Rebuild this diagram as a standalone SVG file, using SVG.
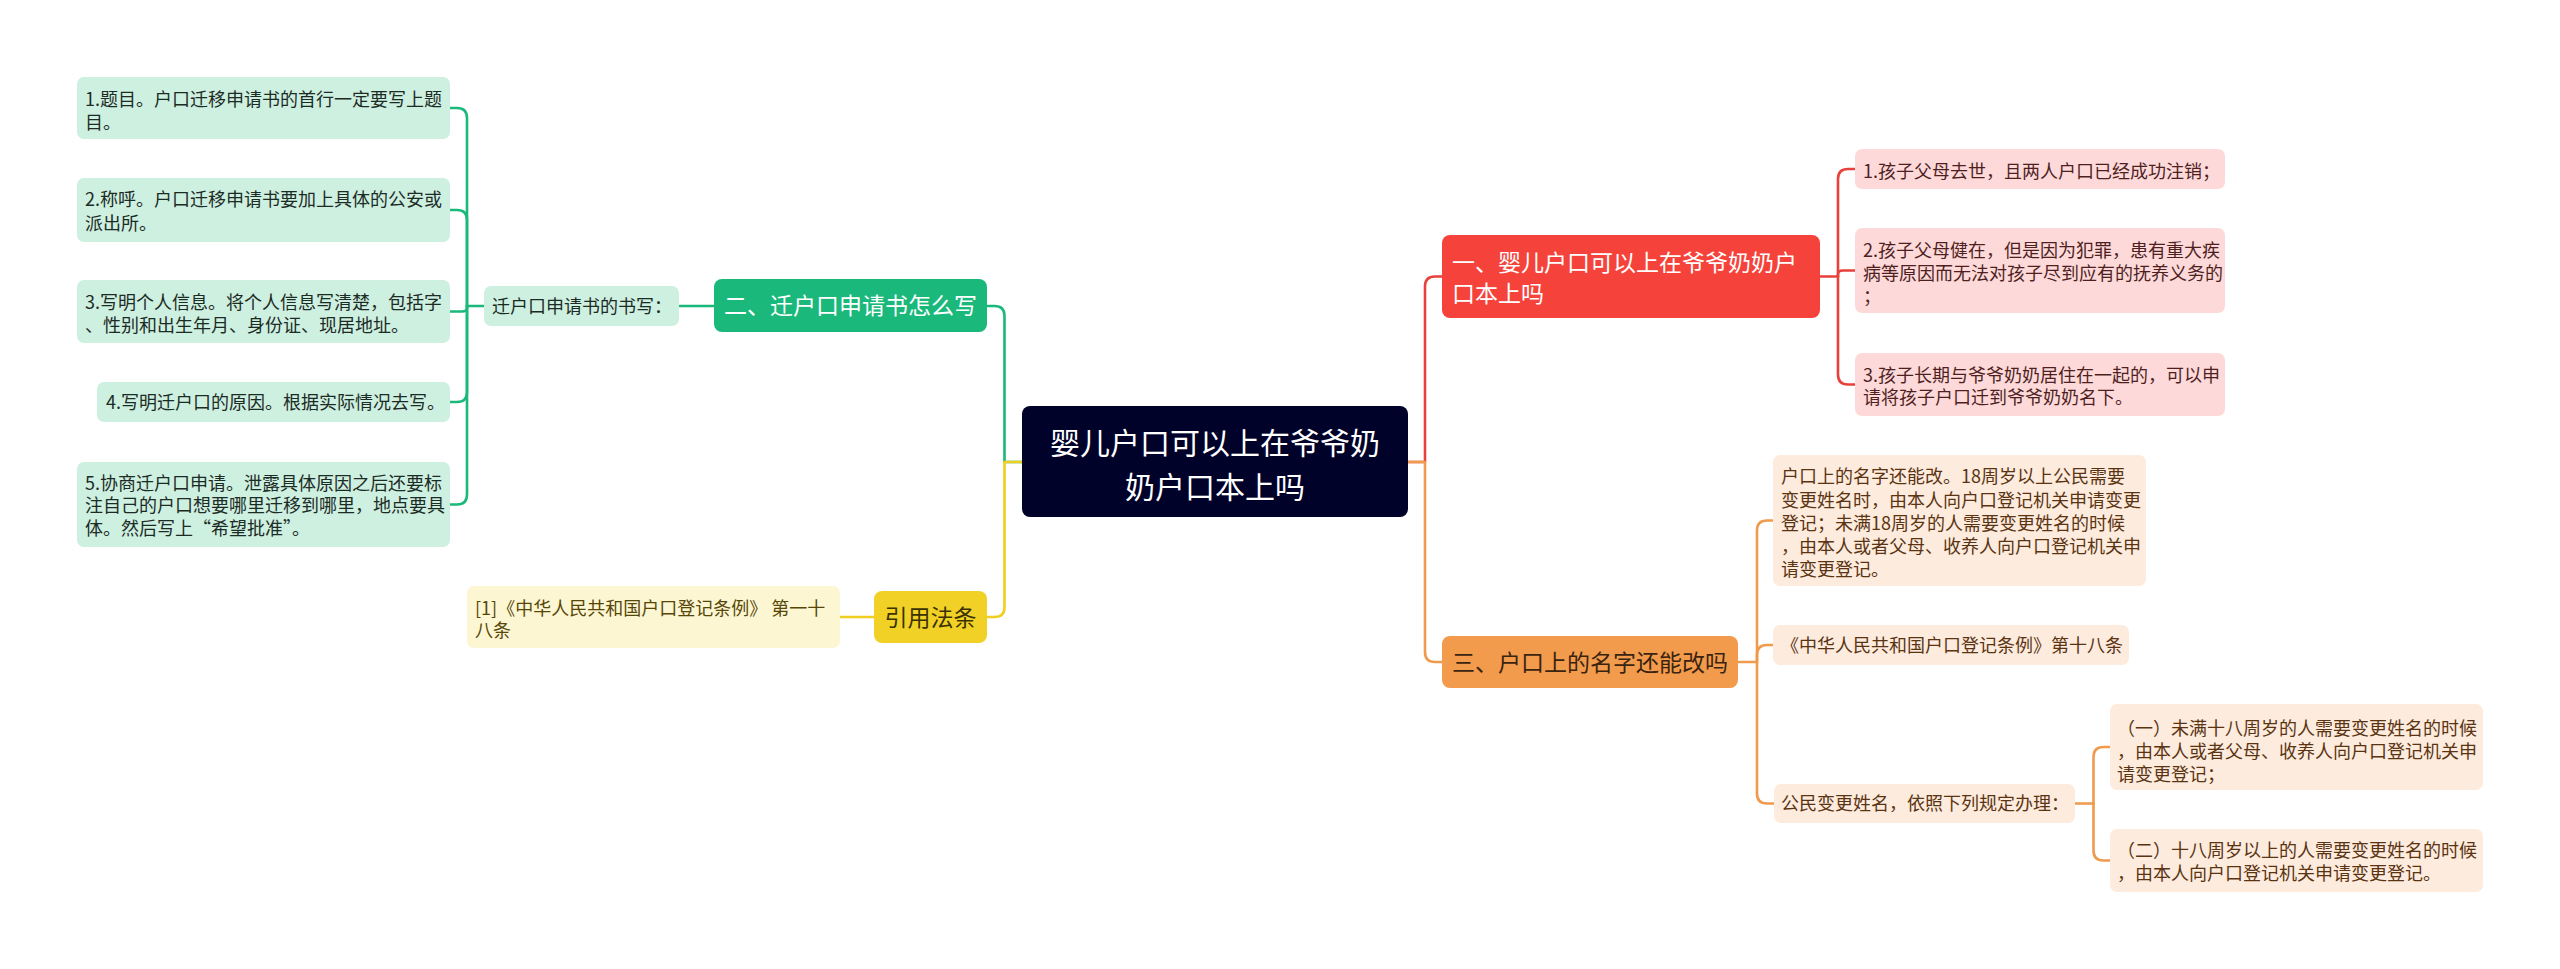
<svg xmlns="http://www.w3.org/2000/svg" width="2560" height="969" viewBox="0 0 2560 969">
<style>
text{font-family:"Noto Sans CJK SC","Noto Sans",sans-serif;}
.leaf{font-size:18px;}
.big{font-size:23px;}
.gl{fill:#cdf0e1;}
.gt{fill:#1d2b25;}
.rl{fill:#fdd9d9;}
.rt{fill:#4f1f1f;}
.ol{fill:#fdebdd;}
.ot{fill:#5a3412;}
.yl{fill:#fdf6d3;}
.yt{fill:#564708;}
.c{fill:none;stroke-width:2.6;stroke-linecap:round;stroke-linejoin:round;}
.cg{stroke:#1ab87b;}
.cy{stroke:#f0cf22;}
.cr{stroke:#e8403a;}
.co{stroke:#ef9a4c;}
</style>
<rect width="2560" height="969" fill="#ffffff"/>
<g id="connectors">
<path class="c cg" d="M1022,462 H1004.5 V316 Q1004.5,306 994.5,306 H987"/>
<path class="c cy" d="M1022,462 H1004.5 V607 Q1004.5,617 994.5,617 H987"/>
<path class="c cr" d="M1408,462 H1425 V286.5 Q1425,276.5 1435,276.5 H1442"/>
<path class="c co" d="M1408,462 H1425 V652 Q1425,662 1435,662 H1442"/>
<path class="c cg" d="M714,306 H679"/>
<path class="c cg" d="M484,306 H467 V118 Q467,108 457,108 H450"/>
<path class="c cg" d="M467,306 V220 Q467,210 457,210 H450"/>
<path class="c cg" d="M467,306 V308 Q467,311.5 462,311.5 H450"/>
<path class="c cg" d="M467,306 V392 Q467,402 457,402 H450"/>
<path class="c cg" d="M467,306 V494.5 Q467,504.5 457,504.5 H450"/>
<path class="c cy" d="M874,617 H840"/>
<path class="c cr" d="M1820,276.5 H1838 V179 Q1838,169 1848,169 H1855"/>
<path class="c cr" d="M1838,276.5 V274 Q1838,270.5 1843,270.5 H1855"/>
<path class="c cr" d="M1838,276.5 V374.5 Q1838,384.5 1848,384.5 H1855"/>
<path class="c co" d="M1738,662 H1757 V530.5 Q1757,520.5 1767,520.5 H1773"/>
<path class="c co" d="M1757,662 V655 Q1757,645 1767,645 H1773"/>
<path class="c co" d="M1757,662 V793.5 Q1757,803.5 1767,803.5 H1774"/>
<path class="c co" d="M2075,803.5 H2093.5 V757 Q2093.5,747 2103.5,747 H2110"/>
<path class="c co" d="M2093.5,803.5 V850.5 Q2093.5,860.5 2103.5,860.5 H2110"/>
</g>
<g id="center">
<rect x="1022" y="406" width="386" height="111" rx="8" fill="#000229"/>
<text font-size="30" fill="#ffffff" text-anchor="middle"><tspan x="1215" y="454">婴儿户口可以上在爷爷奶</tspan><tspan x="1215" y="498">奶户口本上吗</tspan></text>
</g>
<g id="n2">
<rect x="714" y="279" width="273" height="53" rx="8" fill="#1ab87b"/>
<text x="850.5" y="314" class="big" fill="#ffffff" text-anchor="middle">二、迁户口申请书怎么写</text>
</g>
<g id="n2sub">
<rect x="484" y="286" width="195" height="40" rx="7" class="gl"/>
<text x="492" y="312.5" class="leaf gt">迁户口申请书的书写：</text>
</g>
<g id="g1">
<rect x="77" y="77" width="373" height="62" rx="7" class="gl"/>
<text class="leaf gt"><tspan x="85" y="105.5">1.题目。户口迁移申请书的首行一定要写上题</tspan><tspan x="85" y="128.5">目。</tspan></text>
</g>
<g id="g2">
<rect x="77" y="178" width="373" height="64" rx="7" class="gl"/>
<text class="leaf gt"><tspan x="85" y="205.5">2.称呼。户口迁移申请书要加上具体的公安或</tspan><tspan x="85" y="229.5">派出所。</tspan></text>
</g>
<g id="g3">
<rect x="77" y="280" width="373" height="63" rx="7" class="gl"/>
<text class="leaf gt"><tspan x="85" y="308.5">3.写明个人信息。将个人信息写清楚，包括字</tspan><tspan x="85" y="331.5">、性别和出生年月、身份证、现居地址。</tspan></text>
</g>
<g id="g4">
<rect x="97" y="382" width="353" height="40" rx="7" class="gl"/>
<text x="106" y="409" class="leaf gt">4.写明迁户口的原因。根据实际情况去写。</text>
</g>
<g id="g5">
<rect x="77" y="462" width="373" height="85" rx="7" class="gl"/>
<text class="leaf gt"><tspan x="85" y="489.5">5.协商迁户口申请。泄露具体原因之后还要标</tspan><tspan x="85" y="511.5">注自己的户口想要哪里迁移到哪里，地点要具</tspan><tspan x="85" y="534.5">体。然后写上“希望批准”。</tspan></text>
</g>
<g id="n4">
<rect x="874" y="591" width="113" height="52" rx="8" fill="#f2d126"/>
<text x="930.5" y="626" class="big" fill="#3a3200" text-anchor="middle">引用法条</text>
</g>
<g id="y1">
<rect x="467" y="586" width="373" height="62" rx="7" class="yl"/>
<text class="leaf yt"><tspan x="475" y="614.5">[1]《中华人民共和国户口登记条例》 第一十</tspan><tspan x="475" y="636.5">八条</tspan></text>
</g>
<g id="n1">
<rect x="1442" y="235" width="378" height="83" rx="8" fill="#f5433b"/>
<text class="big" fill="#ffffff"><tspan x="1452" y="271">一、婴儿户口可以上在爷爷奶奶户</tspan><tspan x="1452" y="302">口本上吗</tspan></text>
</g>
<g id="r1">
<rect x="1855" y="149" width="370" height="40" rx="7" class="rl"/>
<text x="1863" y="177.5" class="leaf rt">1.孩子父母去世，且两人户口已经成功注销；</text>
</g>
<g id="r2">
<rect x="1855" y="228" width="370" height="85" rx="7" class="rl"/>
<text class="leaf rt"><tspan x="1863" y="256.5">2.孩子父母健在，但是因为犯罪，患有重大疾</tspan><tspan x="1863" y="279.5">病等原因而无法对孩子尽到应有的抚养义务的</tspan><tspan x="1863" y="303">；</tspan></text>
</g>
<g id="r3">
<rect x="1855" y="353" width="370" height="63" rx="7" class="rl"/>
<text class="leaf rt"><tspan x="1863" y="381.5">3.孩子长期与爷爷奶奶居住在一起的，可以申</tspan><tspan x="1863" y="403.5">请将孩子户口迁到爷爷奶奶名下。</tspan></text>
</g>
<g id="n3">
<rect x="1442" y="636" width="296" height="52" rx="8" fill="#f39b4c"/>
<text x="1452" y="671" class="big" fill="#3a2410">三、户口上的名字还能改吗</text>
</g>
<g id="o1">
<rect x="1773" y="455" width="373" height="131" rx="7" class="ol"/>
<text class="leaf ot"><tspan x="1781" y="483">户口上的名字还能改。18周岁以上公民需要</tspan><tspan x="1781" y="506.5">变更姓名时，由本人向户口登记机关申请变更</tspan><tspan x="1781" y="529.5">登记；未满18周岁的人需要变更姓名的时候</tspan><tspan x="1781" y="553">，由本人或者父母、收养人向户口登记机关申</tspan><tspan x="1781" y="575.5">请变更登记。</tspan></text>
</g>
<g id="o2">
<rect x="1773" y="625" width="356" height="40" rx="7" class="ol"/>
<text x="1781" y="651.5" class="leaf ot">《中华人民共和国户口登记条例》第十八条</text>
</g>
<g id="o3">
<rect x="1774" y="784" width="301" height="39" rx="7" class="ol"/>
<text x="1781" y="810" class="leaf ot">公民变更姓名，依照下列规定办理：</text>
</g>
<g id="o31">
<rect x="2110" y="704" width="373" height="86" rx="7" class="ol"/>
<text class="leaf ot"><tspan x="2117" y="734.5">（一）未满十八周岁的人需要变更姓名的时候</tspan><tspan x="2117" y="757.5">，由本人或者父母、收养人向户口登记机关申</tspan><tspan x="2117" y="780.5">请变更登记；</tspan></text>
</g>
<g id="o32">
<rect x="2110" y="829" width="373" height="63" rx="7" class="ol"/>
<text class="leaf ot"><tspan x="2117" y="856.5">（二）十八周岁以上的人需要变更姓名的时候</tspan><tspan x="2117" y="879.5">，由本人向户口登记机关申请变更登记。</tspan></text>
</g>
</svg>
